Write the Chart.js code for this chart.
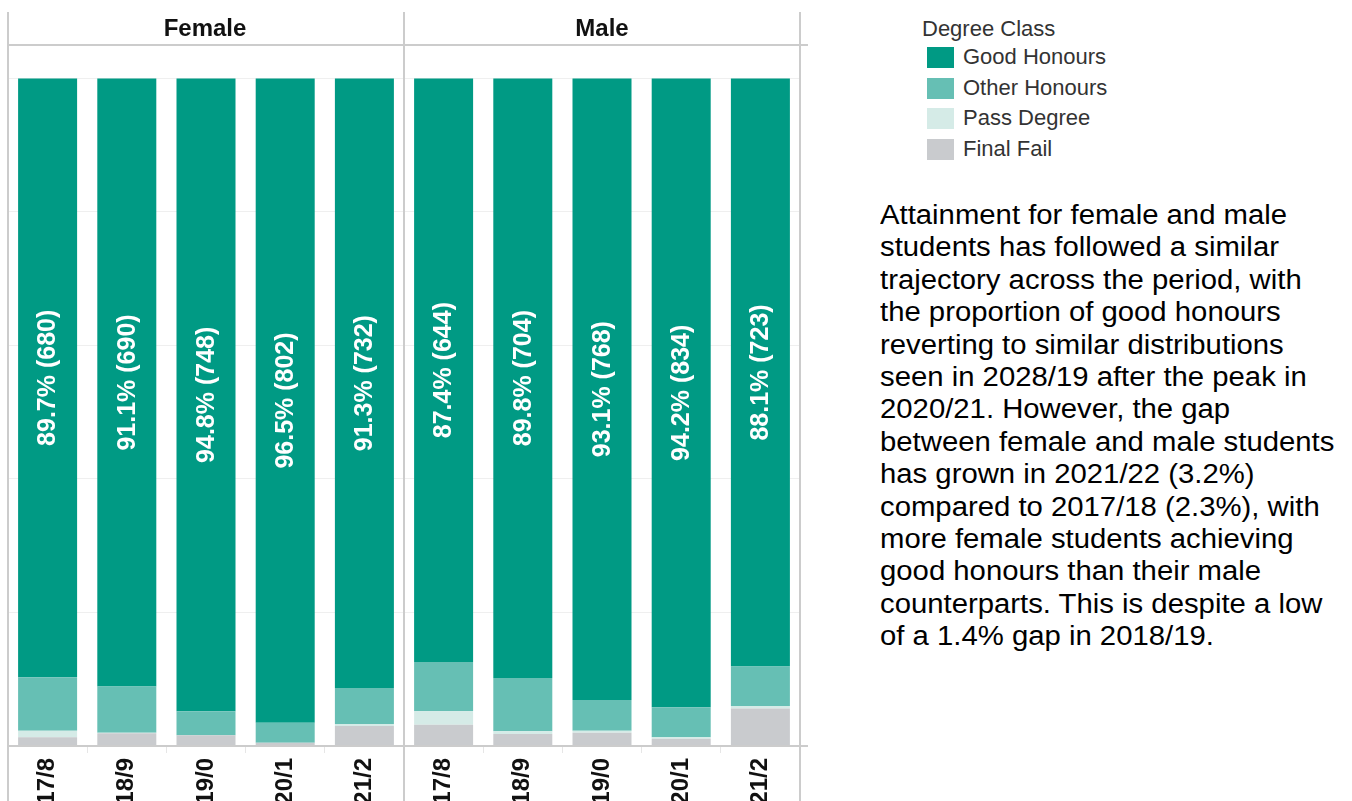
<!DOCTYPE html>
<html>
<head>
<meta charset="utf-8">
<script src="https://cdn.jsdelivr.net/npm/chart.js@4/dist/chart.umd.min.js"></script>
<style>
    html, body { margin: 0; padding: 0; background: #fff; overflow: hidden; }
    #wrap { position: relative; width: 1352px; height: 801px; overflow: hidden; }
    #myChart { position: absolute; left: 0; top: 0; }
    #legend { position: absolute; left: 922px; top: 15px; font-family: Arial, "Liberation Sans", sans-serif; color: #333; }
    #legend .title { font-size: 22px; height: 27px; line-height: 27px; }
    #legend .item { height: 30.5px; line-height: 30.5px; font-size: 22px; white-space: nowrap; }
    #legend .sw { display: inline-block; width: 27px; height: 21px; margin-left: 5px; margin-right: 9px; vertical-align: -4px; }
    #note { position: absolute; left: 880px; top: 199px; font-family: Arial, "Liberation Sans", sans-serif; font-size: 27px; line-height: 32.4px; color: #000; white-space: nowrap; transform: scaleX(1.085); transform-origin: 0 0; }
</style>
</head>
<body>
<div id="wrap">
    <canvas id="myChart" width="810" height="830"></canvas>
    <div id="legend"></div>
    <div id="note"></div>
</div>
<script>
/** 分面 / 类别 */
var genders = ['Female', 'Male']
var years = ['17/8', '18/9', '19/0', '20/1', '21/2']

/** 百分比, 先 Female 五年 再 Male 五年 */
var goodHonours = [89.7, 91.1, 94.8, 96.5, 91.3, 87.4, 89.8, 93.1, 94.2, 88.1]
var otherHonours = [8.0, 6.9, 3.6, 3.0, 5.4, 7.4, 8.0, 4.6, 4.5, 5.9]
var passDegree = [1.0, 0.1, 0.0, 0.0, 0.3, 2.0, 0.4, 0.3, 0.2, 0.4]
var finalFail = [1.3, 1.9, 1.6, 0.5, 3.0, 3.2, 1.8, 2.0, 1.1, 5.6]
var goodCounts = [680, 690, 748, 802, 732, 644, 704, 768, 834, 723]

var legendTitle = 'Degree Class'
var noteLines = [
    'Attainment for female and male',
    'students has followed a similar',
    'trajectory across the period, with',
    'the proportion of good honours',
    'reverting to similar distributions',
    'seen in 2028/19 after the peak in',
    '2020/21. However, the gap',
    'between female and male students',
    'has grown in 2021/22 (3.2%)',
    'compared to 2017/18 (2.3%), with',
    'more female students achieving',
    'good honours than their male',
    'counterparts. This is despite a low',
    'of a 1.4% gap in 2018/19.'
]

var colors = {
    good: '#009a84',
    other: '#66bfb4',
    pass: '#d5ebe7',
    fail: '#c9cbce',
    line: '#cccccc'
}

var page = {
    init: function () {
        page.funcs.renderLegend()
        page.funcs.renderNote()
        page.funcs.createChart()
    },
    funcs: {
        labels: function () {
            var out = []
            genders.forEach(function () {
                years.forEach(function (y) { out.push(y) })
            })
            return out
        },
        datasets: function () {
            // 从下往上堆叠
            return [
                { label: 'Final Fail', data: finalFail, backgroundColor: colors.fail },
                { label: 'Pass Degree', data: passDegree, backgroundColor: colors.pass },
                { label: 'Other Honours', data: otherHonours, backgroundColor: colors.other },
                { label: 'Good Honours', data: goodHonours, backgroundColor: colors.good }
            ]
        },
        renderLegend: function () {
            var box = document.getElementById('legend')
            var html = '<div class="title">' + legendTitle + '</div>'
            page.funcs.datasets().slice().reverse().forEach(function (d) {
                html += '<div class="item"><span class="sw" style="background:' + d.backgroundColor + '"></span>' + d.label + '</div>'
            })
            box.innerHTML = html
        },
        renderNote: function () {
            document.getElementById('note').innerHTML = noteLines.join('<br>')
        },
        createChart: function () {
            var framePlugin = {
                id: 'frame',
                afterDraw: function (chart) {
                    var ctx = chart.ctx
                    var area = chart.chartArea
                    var xs = chart.scales.x
                    var mid = (xs.getPixelForValue(years.length - 1) + xs.getPixelForValue(years.length)) / 2
                    ctx.save()
                    ctx.strokeStyle = colors.line
                    ctx.lineWidth = 2
                    ctx.beginPath()
                    ;[area.left, mid, area.right].forEach(function (x) {
                        ctx.moveTo(x, 12)
                        ctx.lineTo(x, chart.height)
                    })
                    ctx.moveTo(area.left, area.top)
                    ctx.lineTo(chart.width - 2, area.top)
                    ctx.moveTo(area.left, area.bottom)
                    ctx.lineTo(chart.width - 2, area.bottom)
                    ctx.stroke()
                    /** 分面标题 */
                    ctx.fillStyle = '#111'
                    ctx.font = 'bold 24px Arial, "Liberation Sans", sans-serif'
                    ctx.textAlign = 'center'
                    ctx.textBaseline = 'middle'
                    ctx.fillText(genders[0], (area.left + mid) / 2 - 1, 29)
                    ctx.fillText(genders[1], (mid + area.right) / 2, 29)
                    ctx.restore()
                },
                afterDatasetsDraw: function (chart) {
                    var ctx = chart.ctx
                    var meta = chart.getDatasetMeta(3)
                    ctx.save()
                    ctx.fillStyle = '#ffffff'
                    ctx.font = 'bold 25px Arial, "Liberation Sans", sans-serif'
                    ctx.textAlign = 'center'
                    ctx.textBaseline = 'middle'
                    meta.data.forEach(function (bar, i) {
                        ctx.save()
                        ctx.translate(bar.x + 1, (bar.y + bar.base) / 2)
                        ctx.rotate(-Math.PI / 2)
                        ctx.fillText(goodHonours[i].toFixed(1) + '% (' + goodCounts[i] + ')', 0, 0)
                        ctx.restore()
                    })
                    ctx.restore()
                }
            }

            var ctx = document.getElementById('myChart').getContext('2d')
            var myChart = new Chart(ctx, {
                type: 'bar',
                data: {
                    labels: page.funcs.labels(),
                    datasets: page.funcs.datasets()
                },
                options: {
                    responsive: false,
                    animation: false,
                    devicePixelRatio: 1,
                    layout: { padding: { left: 8, right: 10, top: 45, bottom: 0 } },
                    datasets: { bar: { barPercentage: 0.745, categoryPercentage: 1, borderWidth: 0 } },
                    plugins: { legend: { display: false }, tooltip: { enabled: false } },
                    scales: {
                        x: {
                            stacked: true,
                            grid: { offset: true, drawOnChartArea: false, drawTicks: true, tickLength: 7, color: '#e6e6e6' },
                            border: { display: false },
                            ticks: {
                                autoSkip: false,
                                maxRotation: 90,
                                minRotation: 90,
                                padding: 5,
                                color: '#111',
                                font: { family: 'Arial, "Liberation Sans", sans-serif', size: 24, weight: 'bold' }
                            },
                            afterFit: function (scale) { scale.height = 84 }
                        },
                        y: {
                            stacked: true,
                            min: 0,
                            max: 105,
                            grid: { color: '#efefef', drawTicks: false },
                            border: { display: false },
                            ticks: { display: false, stepSize: 20 },
                            afterBuildTicks: function (scale) {
                                scale.ticks = scale.ticks.filter(function (t) { return t.value % 20 === 0 })
                            },
                            afterFit: function (scale) { scale.width = 0 }
                        }
                    }
                },
                plugins: [framePlugin]
            })
        }
    }
}

page.init()
</script>
</body>
</html>
